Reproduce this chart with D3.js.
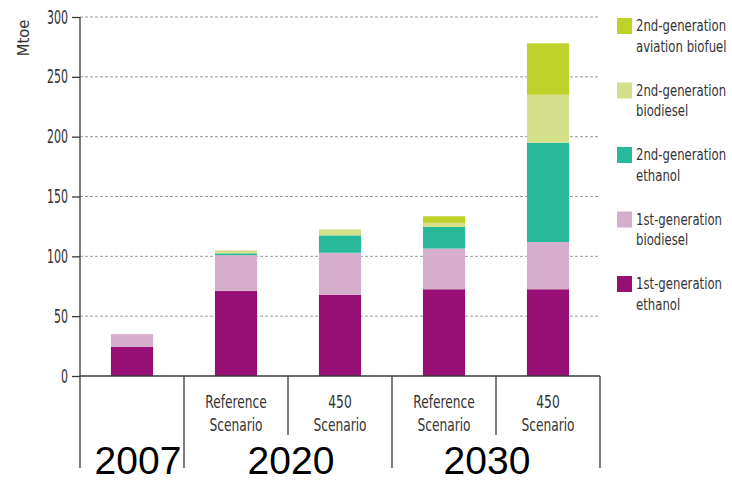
<!DOCTYPE html>
<html lang="en">
<head>
  <meta charset="UTF-8">
  <title>Biofuels</title>
  <style>
    body { margin: 0; background: #fff; }
    .axis line { fill: none; stroke: #3a3a3a; stroke-width: 1.3; }
    .axis text { font-family: "DejaVu Sans", sans-serif; font-size: 19px; fill: #333; }
    .grid line { stroke: #9a9a9a; stroke-dasharray: 3,2; stroke-width: 1; }
    .lbl { font-family: "DejaVu Sans", sans-serif; fill: #333; }
  </style>
</head>
<body>
  <script src="https://cdnjs.cloudflare.com/ajax/libs/d3/7.8.5/d3.min.js"></script>
  <script>
    // data
    var categories = ["2007", "2020 Reference", "2020 450", "2030 Reference", "2030 450"];
    var scenarioLabels = [[], ["Reference", "Scenario"], ["450", "Scenario"], ["Reference", "Scenario"], ["450", "Scenario"]];
    var years = ["2007", "2020", "2030"];
    var yearFirst = ["2007", "2020 Reference", "2030 Reference"];
    var yearLast = ["2007", "2020 450", "2030 450"];
    var seriesNames = ["1st-generation ethanol", "1st-generation biodiesel", "2nd-generation ethanol", "2nd-generation biodiesel", "2nd-generation aviation biofuel"];
    var legendLines = [["1st-generation", "ethanol"], ["1st-generation", "biodiesel"], ["2nd-generation", "ethanol"], ["2nd-generation", "biodiesel"], ["2nd-generation", "aviation biofuel"]];
    var ethanol1 = [24.5, 71, 68, 72.5, 72.5];
    var biodiesel1 = [10.5, 30, 35, 34, 39.5];
    var ethanol2 = [0, 1.5, 14.5, 18, 83];
    var biodiesel2 = [0, 2.5, 5, 3.5, 40];
    var aviation = [0, 0, 0, 5.5, 43];
    var yTicks = [0, 50, 100, 150, 200, 250, 300];
    var colors = ["#970e74", "#d5aecb", "#28b99b", "#d4e08a", "#bfd22c"];

    var width = 732, height = 482;
    // the original font is very condensed, so texts are squeezed sideways
    var squeeze = 0.71, tickSqueeze = 0.58;
    var svg = d3.select("body").append("svg").attr("width", width).attr("height", height);

    var x = d3.scaleBand().domain(categories).range([80, 600]).padding(0);
    var y = d3.scaleLinear().domain([0, 300]).range([376, 17]);
    var barW = x.bandwidth() * 0.405;

    // gridlines
    svg.append("g").attr("class", "grid").selectAll("line").data(yTicks.slice(1)).enter().append("line")
      .attr("x1", 80).attr("x2", 600)
      .attr("y1", function (d) { return y(d); }).attr("y2", function (d) { return y(d); });

    // stacked bars
    var rows = categories.map(function (c, i) {
      return { cat: c, s0: ethanol1[i], s1: biodiesel1[i], s2: ethanol2[i], s3: biodiesel2[i], s4: aviation[i] };
    });
    var stack = d3.stack().keys(["s0", "s1", "s2", "s3", "s4"])(rows);
    svg.append("g").selectAll("g").data(stack).enter().append("g")
      .attr("fill", function (d, i) { return colors[i]; })
      .selectAll("rect").data(function (d) { return d; }).enter().append("rect")
      .attr("x", function (d) { return x(d.data.cat) + (x.bandwidth() - barW) / 2; })
      .attr("y", function (d) { return y(d[1]); })
      .attr("width", barW)
      .attr("height", function (d) { return y(d[0]) - y(d[1]); });

    // y axis
    var yAxis = d3.axisLeft(y).tickValues(yTicks).tickSize(8);
    var ga = svg.append("g").attr("class", "axis").attr("transform", "translate(80,0)").call(yAxis);
    ga.select(".domain").remove();
    ga.selectAll(".tick text").attr("x", -12 / tickSqueeze).attr("transform", "scale(" + tickSqueeze + ",1)");

    var axisLine = function (x1, y1, x2, y2) {
      svg.append("line").attr("x1", x1).attr("y1", y1).attr("x2", x2).attr("y2", y2)
        .attr("stroke", "#3a3a3a").attr("stroke-width", 1.3);
    };
    axisLine(80, y(300), 80, 468);
    axisLine(80, y(0), 600, y(0));

    svg.append("text").attr("class", "lbl")
      .attr("transform", "translate(29,38) rotate(-90) scale(0.95,1)")
      .attr("text-anchor", "middle").style("font-size", "15.5px").text("Mtoe");

    // separators under the axis
    categories.forEach(function (c, i) {
      if (i === 0) return;
      axisLine(x(c), y(0), x(c), yearFirst.indexOf(c) >= 0 ? 468 : 435);
    });
    axisLine(600, y(0), 600, 468);

    // scenario labels
    var sl = svg.append("g").selectAll("text").data(categories).enter().append("text")
      .attr("class", "lbl").attr("text-anchor", "middle").style("font-size", "17.5px")
      .attr("transform", function (d) { return "translate(" + (x(d) + x.bandwidth() / 2) + ",408) scale(0.7,1)"; });
    sl.selectAll("tspan").data(function (d, i) { return scenarioLabels[i]; }).enter().append("tspan")
      .attr("x", 0)
      .attr("dy", function (d, i) { return i === 0 ? 0 : 23; })
      .text(function (d) { return d; });

    // year labels
    var yearNudge = [6, 3, -9];
    svg.append("g").selectAll("text").data(years).enter().append("text")
      .attr("x", function (d, i) { return (x(yearFirst[i]) + x(yearLast[i]) + x.bandwidth()) / 2 + yearNudge[i]; })
      .attr("y", 474)
      .attr("text-anchor", "middle")
      .style("font-family", "'Liberation Sans', Arial, sans-serif")
      .style("font-size", "39px")
      .style("fill", "#000")
      .text(function (d) { return d; });

    // legend, top entry is the top of the stack
    var legendItems = seriesNames.map(function (n, i) { return { name: n, color: colors[i], lines: legendLines[i] }; }).reverse();
    var lg = svg.append("g").selectAll("g").data(legendItems).enter().append("g")
      .attr("transform", function (d, i) { return "translate(617," + (18 + i * 64.5) + ")"; });
    lg.append("rect").attr("width", 15).attr("height", 16).attr("fill", function (d) { return d.color; });
    var lt = lg.append("text").attr("class", "lbl").style("font-size", "16.5px")
      .attr("transform", "translate(19,13) scale(" + squeeze + ",1)");
    lt.selectAll("tspan").data(function (d) { return d.lines; }).enter().append("tspan")
      .attr("x", 0).attr("dy", function (d, i) { return i === 0 ? 0 : 21; })
      .text(function (d) { return d; });
  </script>
</body>
</html>
